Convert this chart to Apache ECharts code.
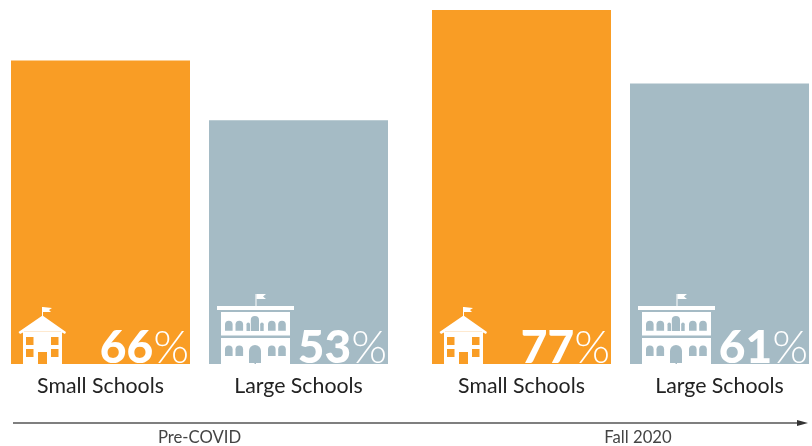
<!DOCTYPE html>
<html>
<head>
<meta charset="utf-8">
<title>Schools</title>
<style>html,body{margin:0;padding:0;background:#fff}#c{width:812px;height:446px}</style>
<script src="https://cdn.jsdelivr.net/npm/echarts@6/dist/echarts.min.js"></script>
</head>
<body>
<div id="c"></div>
<script>
const categories = ['Small Schools', 'Large Schools'];
const periods = ['Pre-COVID', 'Fall 2020'];
const preCovid = [66, 53];
const fall2020 = [77, 61];
const barColors = ['#F99D25', '#A5BBC5'];
const FONT = 'Lato';
const WHITE = '#fff';

// Icon shapes are written in a bar-local frame and shifted to the bar's bottom centre.
function rect(x, y, w, h, fill, opacity) {
  return { type: 'rect', shape: { x, y, width: w, height: h }, style: { fill, opacity: opacity == null ? 1 : opacity } };
}
function arch(x, y, w, h, fill) {
  const r = w / 2;
  return {
    type: 'path',
    shape: { pathData: `M${x} ${y + h}V${y + r}A${r} ${r} 0 0 1 ${x + w} ${y + r}V${y + h}Z` },
    style: { fill }
  };
}

function smallSchool(cx, base, bg) {
  const ox = cx - 100.5, oy = base - 364;
  const X = v => v + ox, Y = v => v + oy;
  const parts = [
    rect(X(42), Y(307), 1, 10, WHITE),
    { type: 'polygon', shape: { points: [[X(43), Y(307)], [X(52), Y(308)], [X(49), Y(310)], [X(51), Y(312)], [X(43), Y(312)]] }, style: { fill: WHITE } },
    { type: 'polygon', shape: { points: [[X(42.5), Y(315.5)], [X(66), Y(332)], [X(65), Y(334)], [X(62), Y(332.5)], [X(23), Y(332.5)], [X(20), Y(334)], [X(18.5), Y(332)]] }, style: { fill: WHITE } },
    rect(X(23), Y(331), 39, 33, WHITE),
    rect(X(24), Y(331), 37, 1, bg, 0.22)
  ];
  [[26, 337], [51, 337], [26, 349], [51, 349]].forEach(([x, y]) => parts.push(rect(X(x), Y(y), 7.5, 8, bg)));
  parts.push(rect(X(38), Y(352), 9, 12, bg));
  return parts;
}

function largeSchool(cx, base, bg) {
  const ox = cx - 298.5, oy = base - 364;
  const X = v => v + ox, Y = v => v + oy;
  const parts = [
    rect(X(255.5), Y(294), 1, 12, WHITE),
    { type: 'polygon', shape: { points: [[X(256.5), Y(294)], [X(266), Y(294)], [X(263), Y(296.5)], [X(266), Y(299)], [X(256.5), Y(299)]] }, style: { fill: WHITE } },
    rect(X(217), Y(306), 77, 4, WHITE),
    rect(X(221), Y(312), 69, 23.5, WHITE),
    rect(X(221), Y(338), 69, 26, WHITE)
  ];
  [225, 235.5, 268, 278.2].forEach(x => {
    parts.push(arch(X(x), Y(320.7), 7.6, 10, bg));
    parts.push(arch(X(x), Y(345.5), 7.6, 10.5, bg));
  });
  parts.push(arch(X(246.5), Y(322.5), 3.5, 8.5, bg));
  parts.push(arch(X(250.8), Y(316), 8.2, 15, bg));
  parts.push(arch(X(260.2), Y(322.5), 3.5, 8.5, bg));
  parts.push(arch(X(249), Y(345), 12, 18, bg));
  parts.push(rect(X(254.5), Y(363), 1.5, 1, bg));
  return parts;
}

function iconSeries(axisIndex, values) {
  return {
    type: 'custom',
    xAxisIndex: axisIndex,
    yAxisIndex: axisIndex,
    z: 5,
    silent: true,
    clip: false,
    data: values.map((v, i) => [i, v]),
    renderItem(params, api) {
      const i = api.value(0);
      const p = api.coord([i, 0]);
      const draw = i === 0 ? smallSchool : largeSchool;
      return { type: 'group', children: draw(p[0], p[1], barColors[i]) };
    }
  };
}

function barSeries(axisIndex, values) {
  return {
    type: 'bar',
    xAxisIndex: axisIndex,
    yAxisIndex: axisIndex,
    barWidth: 179,
    z: 2,
    data: values.map((v, i) => ({ value: v, itemStyle: { color: barColors[i] } })),
    label: {
      show: true,
      position: 'insideBottomRight',
      distance: 0,
      offset: [-1, 7],
      formatter: p => `{n|${p.value}}{p|%}`,
      rich: {
        n: { fontFamily: FONT, fontSize: 46, fontWeight: 900, color: WHITE, lineHeight: 46 },
        p: { fontFamily: FONT, fontSize: 46, fontWeight: 300, color: WHITE, lineHeight: 46 }
      }
    }
  };
}

const xAxisFor = gridIndex => ({
  type: 'category',
  gridIndex,
  data: categories,
  axisLine: { show: false },
  axisTick: { show: false },
  axisLabel: { fontFamily: FONT, fontSize: 21.3, color: '#222', margin: 12 }
});
const yAxisFor = gridIndex => ({ type: 'value', gridIndex, min: 0, max: 77, show: false });

const chart = echarts.init(document.getElementById('c'), null, { renderer: 'canvas' });
chart.setOption({
  animation: false,
  backgroundColor: '#fff',
  grid: [
    { left: 1.5, top: 10, width: 396, height: 354, outerBoundsMode: 'none' },
    { left: 422.5, top: 10, width: 396, height: 354, outerBoundsMode: 'none' }
  ],
  xAxis: [xAxisFor(0), xAxisFor(1)],
  yAxis: [yAxisFor(0), yAxisFor(1)],
  series: [
    barSeries(0, preCovid), iconSeries(0, preCovid),
    barSeries(1, fall2020), iconSeries(1, fall2020)
  ],
  graphic: [
    { type: 'line', shape: { x1: 13, y1: 423, x2: 800, y2: 423 }, style: { stroke: '#555', lineWidth: 1.5 } },
    { type: 'polygon', shape: { points: [[797, 420], [808, 423], [797, 426]] }, style: { fill: '#333' } },
    { type: 'text', x: 199.5, y: 438, style: { text: periods[0], fontFamily: FONT, fontSize: 16.7, fill: '#444', align: 'center', verticalAlign: 'middle' } },
    { type: 'text', x: 638, y: 438, style: { text: periods[1], fontFamily: FONT, fontSize: 16.7, fill: '#444', align: 'center', verticalAlign: 'middle' } }
  ]
});
</script>
</body>
</html>
